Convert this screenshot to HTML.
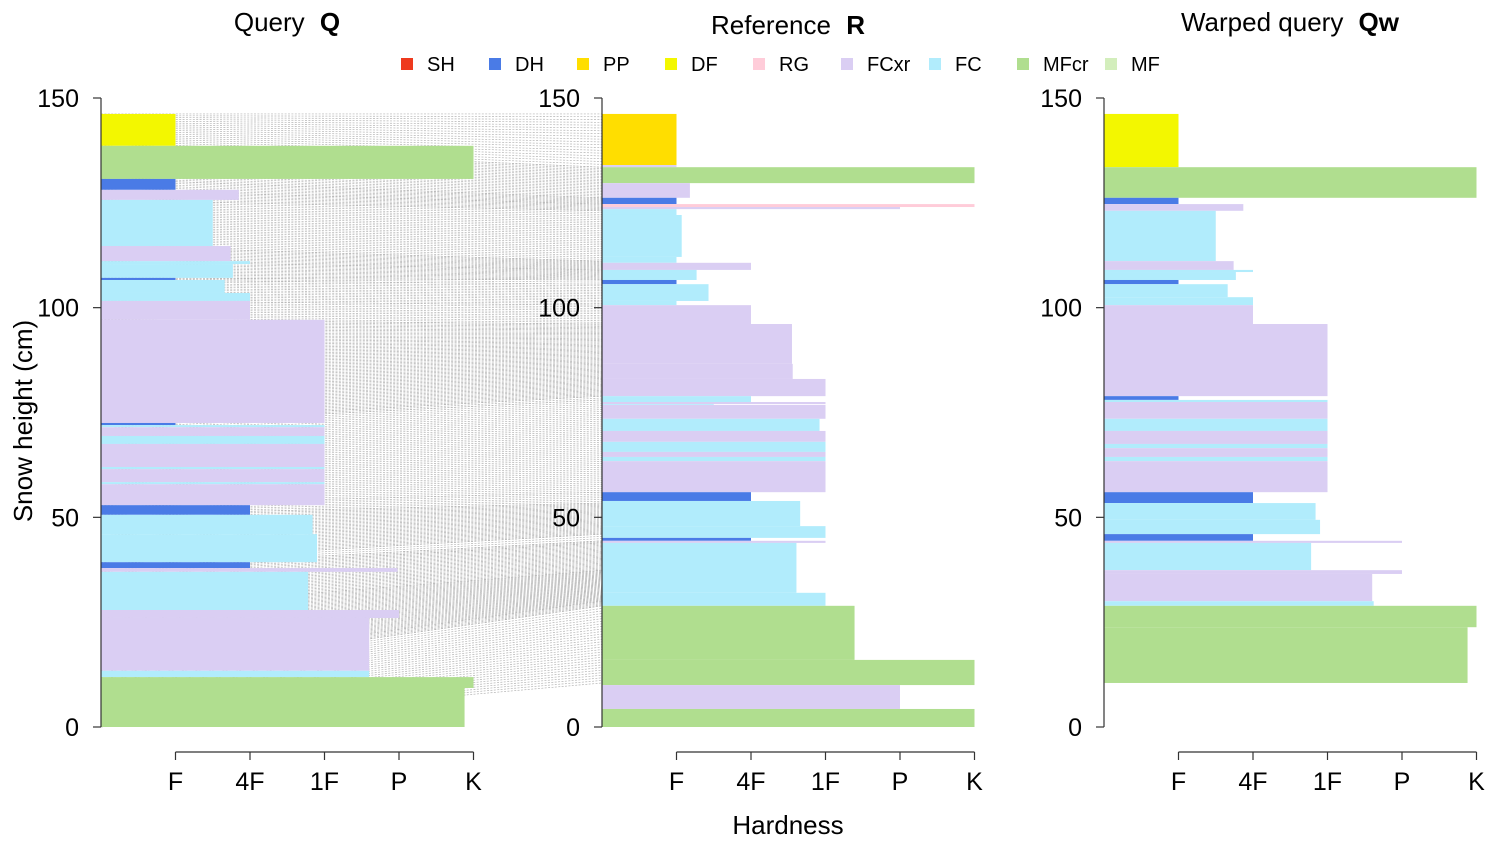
<!DOCTYPE html>
<html><head><meta charset="utf-8">
<style>
body{margin:0;background:#fff;}
svg{display:block;font-family:"Liberation Sans",sans-serif;}
</style></head>
<body>
<svg id="chart" width="1498" height="848" viewBox="0 0 1498 848" xmlns="http://www.w3.org/2000/svg">
<g id="links"></g>
<g id="bars"></g>
<g id="axes"></g>
<g id="legend"></g>
<text x="287" y="31" font-size="26" text-anchor="middle">Query <tspan font-weight="bold" dx="8">Q</tspan></text>
<text x="788" y="34" font-size="26" text-anchor="middle">Reference <tspan font-weight="bold" dx="8">R</tspan></text>
<text x="1290" y="31" font-size="26" text-anchor="middle">Warped query <tspan font-weight="bold" dx="8">Qw</tspan></text>
<text x="788" y="834" font-size="26" text-anchor="middle">Hardness</text>
<text transform="translate(32,421) rotate(-90)" font-size="26" text-anchor="middle">Snow height (cm)</text>
</svg>
<script>
const grainTypes = ['SH','DH','PP','DF','RG','FCxr','FC','MFcr','MF'];
const grainColors = ['#ee3a1e','#4a7be6','#ffde00','#f3f700','#ffccd9','#dacef3','#b1ecfc','#b0de8f','#d3eebc'];
const yTicks = [0,50,100,150];
const hardTicks = ['F','4F','1F','P','K'];
const queryLayers = [
[138.6,146.2,1,'DF'],[130.7,138.6,5,'MFcr'],[128.1,130.7,1,'DH'],[125.7,128.1,1.85,'FCxr'],
[114.7,125.7,1.5,'FC'],[111.1,114.7,1.74,'FCxr'],[110.4,111.1,2,'FC'],[107.1,110.4,1.77,'FC'],
[106.6,107.1,1,'DH'],[103.5,106.6,1.66,'FC'],[101.6,103.5,2,'FC'],[97.1,101.6,2,'FCxr'],
[72.5,97.1,3,'FCxr'],[72.0,72.5,1,'DH'],[71.5,72.0,3,'FC'],[69.4,71.5,3,'FCxr'],
[67.5,69.4,3,'FC'],[62.0,67.5,3,'FCxr'],[61.5,62.0,3,'FC'],[58.4,61.5,3,'FCxr'],
[57.9,58.4,3,'FC'],[52.9,57.9,3,'FCxr'],[50.6,52.9,2,'DH'],[46.0,50.6,2.84,'FC'],
[39.3,46.0,2.9,'FC'],[37.9,39.3,2,'DH'],[37.0,37.9,3.98,'FCxr'],[27.9,37.0,2.78,'FC'],
[26.0,27.9,4,'FCxr'],[13.4,26.0,3.6,'FCxr'],[11.9,13.4,3.6,'FC'],[9.3,11.9,5,'MFcr'],[0,9.3,4.88,'MFcr']];
const refLayers = [
[134.0,146.2,1,'PP'],[133.5,134.0,1,'FCxr'],[129.7,133.5,5,'MFcr'],[126.2,129.7,1.18,'FCxr'],
[124.7,126.2,1,'DH'],[124.0,124.7,5,'RG'],[123.5,124.0,4,'FCxr'],[122.1,123.5,1,'FC'],
[112.1,122.1,1.07,'FC'],[110.7,112.1,1,'FC'],[109.0,110.7,2,'FCxr'],[106.6,109.0,1.27,'FC'],
[105.6,106.6,1,'DH'],[101.6,105.6,1.43,'FC'],[100.6,101.6,1,'FC'],[96.1,100.6,2,'FCxr'],
[86.6,96.1,2.55,'FCxr'],[83.0,86.6,2.56,'FCxr'],[78.9,83.0,3,'FCxr'],[77.5,78.9,2,'FC'],
[77.0,77.5,3,'FCxr'],[76.8,77.0,1.5,'FC'],[73.5,76.8,3,'FCxr'],[70.6,73.5,2.92,'FC'],
[68.0,70.6,3,'FCxr'],[65.6,68.0,3,'FC'],[64.4,65.6,3,'FCxr'],[63.4,64.4,3,'FC'],
[56.0,63.4,3,'FCxr'],[53.9,56.0,2,'DH'],[47.9,53.9,2.66,'FC'],[45.1,47.9,3,'FC'],
[44.4,45.1,2,'DH'],[43.9,44.4,3,'FCxr'],[32.0,43.9,2.61,'FC'],[28.9,32.0,3,'FC'],
[16.0,28.9,3.39,'MFcr'],[10.0,16.0,5,'MFcr'],[4.3,10.0,4,'FCxr'],[0,4.3,5,'MFcr']];
const warpedLayers = [
[133.5,146.2,1,'DF'],[126.2,133.5,5,'MFcr'],[124.7,126.2,1,'DH'],[123.1,124.7,1.87,'FCxr'],
[111.1,123.1,1.5,'FC'],[109.0,111.1,1.74,'FCxr'],[108.5,109.0,2,'FC'],[106.6,108.5,1.77,'FC'],
[105.6,106.6,1,'DH'],[102.5,105.6,1.66,'FC'],[100.6,102.5,2,'FC'],[96.1,100.6,2,'FCxr'],
[78.9,96.1,3,'FCxr'],[78.0,78.9,1,'DH'],[77.5,78.0,3,'FC'],[73.5,77.5,3,'FCxr'],
[70.6,73.5,3,'FC'],[67.5,70.6,3,'FCxr'],[66.5,67.5,3,'FC'],[64.4,66.5,3,'FCxr'],
[63.4,64.4,3,'FC'],[56.0,63.4,3,'FCxr'],[53.4,56.0,2,'DH'],[49.4,53.4,2.84,'FC'],
[46.0,49.4,2.9,'FC'],[44.4,46.0,2,'DH'],[43.9,44.4,4,'FCxr'],[37.4,43.9,2.78,'FC'],
[36.5,37.4,4,'FCxr'],[30.0,36.5,3.6,'FCxr'],[28.9,30.0,3.62,'FC'],[23.8,28.9,5,'MFcr'],[10.5,23.8,4.88,'MFcr']];
const alignQuery = [[138.6,146.2],[130.7,138.6],[128.1,130.7],[125.7,128.1],[114.7,125.7],[111.1,114.7],[107.1,111.1],[106.6,107.1],[101.6,106.6],[97.1,101.6],[72.5,97.1],[72.0,72.5],[52.9,72.0],[50.6,52.9],[39.3,50.6],[37.9,39.3],[37.0,37.9],[27.9,37.0],[13.4,27.9],[11.9,13.4],[0,11.9]];
const alignRef = [[133.5,146.2],[126.2,133.5],[124.7,126.2],[123.1,124.7],[111.1,123.1],[109.0,111.1],[106.6,109.0],[105.6,106.6],[100.6,105.6],[96.1,100.6],[78.9,96.1],[78.0,78.9],[56.0,78.0],[53.4,56.0],[46.0,53.4],[44.4,46.0],[43.9,44.4],[37.4,43.9],[30.0,37.4],[28.9,30.0],[10.5,28.9]];

const NS='http://www.w3.org/2000/svg';
const Y0=727, PXCM=629/150, HW=74.5;
const panels=[{ax:101,name:'query'},{ax:602,name:'reference'},{ax:1104,name:'warped'}];
function yS(cm){return Y0-cm*PXCM;}
function xS(p,h){return panels[p].ax+h*HW;}
function mk(tag,attrs,parent){const e=document.createElementNS(NS,tag);for(const k in attrs)e.setAttribute(k,attrs[k]);parent.appendChild(e);return e;}
const colorOf=t=>grainColors[grainTypes.indexOf(t)];

const links=document.getElementById('links');
alignQuery.forEach((q,i)=>{
  const r=alignRef[i];
  const n=Math.max(2,Math.round((q[1]-q[0])/0.4));
  for(let k=0;k<=n;k++){
    const f=k/n;
    const qc=q[0]+(q[1]-q[0])*f, rc=r[0]+(r[1]-r[0])*f;
    const l=mk('line',{x1:xS(0,0),y1:yS(qc),x2:xS(1,0),y2:yS(rc),stroke:'#b4b4b4','stroke-width':0.7,'stroke-dasharray':'2 1.4'},links);
    
    
  }
});

const bars=document.getElementById('bars');
[queryLayers,refLayers,warpedLayers].forEach((layers,p)=>{
  const g=mk('g',{},bars);
  
  
  layers.forEach(L=>{
    const r=mk('rect',{x:xS(p,0),y:yS(L[1]),width:L[2]*HW,height:yS(L[0])-yS(L[1]),fill:colorOf(L[3])},g);
    
    
  });
});

const axes=document.getElementById('axes');
panels.forEach((P,p)=>{
  const g=mk('g',{stroke:'#333','stroke-width':1.2,fill:'none'},axes);
  
  
  mk('line',{x1:P.ax,y1:yS(0),x2:P.ax,y2:yS(150)},g);
  yTicks.forEach(t=>{
    mk('line',{x1:P.ax-8,y1:yS(t),x2:P.ax,y2:yS(t)},g);
    const tx=mk('text',{x:P.ax-22,y:yS(t)+9,'font-size':25,'text-anchor':'end',fill:'#000',stroke:'none'},g);
    tx.textContent=t;
    
    
  });
  mk('line',{x1:xS(p,1),y1:752,x2:xS(p,5),y2:752},g);
  hardTicks.forEach((t,i)=>{
    mk('line',{x1:xS(p,i+1),y1:752,x2:xS(p,i+1),y2:760},g);
    const tx=mk('text',{x:xS(p,i+1),y:790,'font-size':25,'text-anchor':'middle',fill:'#000',stroke:'none'},g);
    tx.textContent=t;
    
    
  });
});

const legend=document.getElementById('legend');
const legX=[401,489,577,665,753,841,929,1017,1105];
grainTypes.forEach((t,i)=>{
  const g=mk('g',{},legend);
  
  
  mk('rect',{x:legX[i],y:58,width:12,height:12,fill:grainColors[i]},g);
  const tx=mk('text',{x:legX[i]+26,y:71,'font-size':20,fill:'#000'},g);
  tx.textContent=t;
});
</script>
</body></html>
